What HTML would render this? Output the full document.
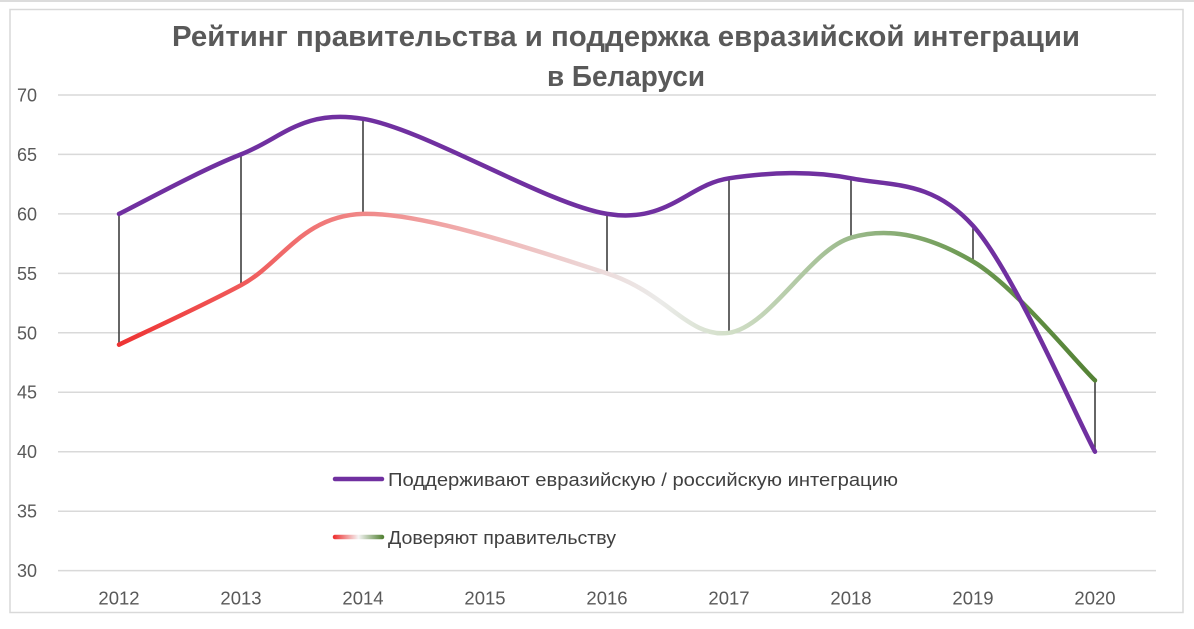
<!DOCTYPE html>
<html>
<head>
<meta charset="utf-8">
<style>
html,body{margin:0;padding:0;background:#fff;}
svg{display:block;}
text{font-family:"Liberation Sans","DejaVu Sans",sans-serif;}
</style>
</head>
<body>
<svg width="1194" height="629" viewBox="0 0 1194 629" xmlns="http://www.w3.org/2000/svg">
<defs>
<linearGradient id="g" gradientUnits="userSpaceOnUse" x1="119" y1="0" x2="1095" y2="0">
<stop offset="0" stop-color="#ee3333"/>
<stop offset="0.125" stop-color="#f05a5a"/>
<stop offset="0.25" stop-color="#f08888"/>
<stop offset="0.375" stop-color="#f0b4b4"/>
<stop offset="0.5" stop-color="#ecdcdc"/>
<stop offset="0.555" stop-color="#ebebe9"/>
<stop offset="0.625" stop-color="#d2dfc8"/>
<stop offset="0.75" stop-color="#9ab98a"/>
<stop offset="0.875" stop-color="#6b9850"/>
<stop offset="1" stop-color="#548235"/>
</linearGradient>
<linearGradient id="lg" gradientUnits="userSpaceOnUse" x1="334" y1="0" x2="383" y2="0">
<stop offset="0" stop-color="#ee3333"/>
<stop offset="0.5" stop-color="#f4f4f4"/>
<stop offset="1" stop-color="#548235"/>
</linearGradient>
</defs>
<rect x="0" y="0" width="1194" height="629" fill="#fff"/>
<line x1="0" y1="1" x2="1194" y2="1" stroke="#d0d0d0" stroke-width="1.5"/>
<rect x="10" y="9.5" width="1173" height="603" fill="#fff" stroke="#d9d9d9" stroke-width="1.5"/>

<!-- title -->
<text x="626" y="46" text-anchor="middle" font-size="29" font-weight="bold" fill="#595959" textLength="908" lengthAdjust="spacingAndGlyphs">Рейтинг правительства и поддержка евразийской интеграции</text>
<text x="626" y="86" text-anchor="middle" font-size="29" font-weight="bold" fill="#595959" textLength="158" lengthAdjust="spacingAndGlyphs">в Беларуси</text>

<!-- gridlines -->
<g stroke="#d9d9d9" stroke-width="1.5">
<line x1="58" y1="95.0" x2="1156" y2="95.0"/>
<line x1="58" y1="154.4" x2="1156" y2="154.4"/>
<line x1="58" y1="213.9" x2="1156" y2="213.9"/>
<line x1="58" y1="273.4" x2="1156" y2="273.4"/>
<line x1="58" y1="332.8" x2="1156" y2="332.8"/>
<line x1="58" y1="392.2" x2="1156" y2="392.2"/>
<line x1="58" y1="451.7" x2="1156" y2="451.7"/>
<line x1="58" y1="511.2" x2="1156" y2="511.2"/>
<line x1="58" y1="570.6" x2="1156" y2="570.6"/>
</g>

<!-- y labels -->
<g font-size="18" fill="#595959" text-anchor="end">
<text x="37" y="101.5">70</text>
<text x="37" y="160.9">65</text>
<text x="37" y="220.4">60</text>
<text x="37" y="279.9">55</text>
<text x="37" y="339.3">50</text>
<text x="37" y="398.7">45</text>
<text x="37" y="458.2">40</text>
<text x="37" y="517.7">35</text>
<text x="37" y="577.1">30</text>
</g>

<!-- x labels -->
<g font-size="18.5" fill="#595959" text-anchor="middle">
<text x="119" y="604.3">2012</text>
<text x="241" y="604.3">2013</text>
<text x="363" y="604.3">2014</text>
<text x="485" y="604.3">2015</text>
<text x="607" y="604.3">2016</text>
<text x="729" y="604.3">2017</text>
<text x="851" y="604.3">2018</text>
<text x="973" y="604.3">2019</text>
<text x="1095" y="604.3">2020</text>
</g>

<!-- drop lines -->
<g stroke="#404040" stroke-width="1.6">
<line x1="119" y1="213.9" x2="119" y2="344.7"/>
<line x1="241" y1="154.4" x2="241" y2="285.2"/>
<line x1="363" y1="118.8" x2="363" y2="213.9"/>
<line x1="607" y1="213.9" x2="607" y2="273.4"/>
<line x1="729" y1="178.3" x2="729" y2="332.8"/>
<line x1="851" y1="178.3" x2="851" y2="237.7"/>
<line x1="973" y1="225.8" x2="973" y2="261.5"/>
<line x1="1095" y1="380.4" x2="1095" y2="451.7"/>
</g>

<!-- trust series (gradient) -->
<path d="M119,344.7 C139.3,334.8 200.3,307.0 241,285.2 C281.7,263.4 302,215.9 363,213.9 C424,211.9 546,253.6 607,273.4 C668,293.2 688.3,338.75 729,332.8 C769.7,326.85 810.3,249.6 851,237.7 C891.7,225.8 932.3,237.7 973,261.5 C1013.7,285.3 1074.7,360.6 1095,380.4" fill="none" stroke="url(#g)" stroke-width="4.5" stroke-linecap="round" stroke-linejoin="round"/>

<!-- support series (purple) -->
<path d="M119,213.9 C139.3,204.0 200.3,170.25 241,154.4 C281.7,138.55 302,108.9 363,118.8 C424,128.7 546,204.0 607,213.9 C668,223.8 688.3,184.2 729,178.3 C769.7,172.4 810.3,170.4 851,178.3 C891.7,186.2 932.3,180.2 973,225.8 C1013.7,271.4 1074.7,414.05 1095,451.7" fill="none" stroke="#7030a0" stroke-width="4.5" stroke-linecap="round" stroke-linejoin="round"/>

<!-- legend -->
<line x1="335" y1="479" x2="382" y2="479" stroke="#7030a0" stroke-width="4.5" stroke-linecap="round"/>
<text x="388" y="485.8" font-size="18.5" fill="#404040" textLength="510" lengthAdjust="spacingAndGlyphs">Поддерживают евразийскую / российскую интеграцию</text>
<line x1="335" y1="537" x2="382" y2="537" stroke="url(#lg)" stroke-width="4.5" stroke-linecap="round"/>
<text x="388" y="543.8" font-size="18.5" fill="#404040" textLength="228" lengthAdjust="spacingAndGlyphs">Доверяют правительству</text>
</svg>
</body>
</html>
